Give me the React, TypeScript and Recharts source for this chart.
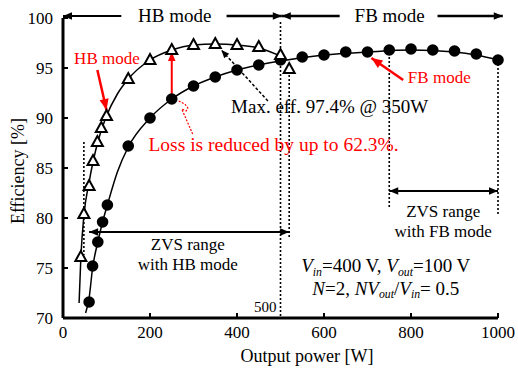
import React from 'react';
import { LineChart, Line, XAxis, YAxis, ReferenceLine, ReferenceDot, Label } from 'recharts';

// Measured markers
const hbPower = [41, 48, 60, 69, 79, 88, 100, 150, 200, 250, 300, 350, 400, 450, 500, 520];
const hbEff = [76.1, 80.4, 83.2, 85.7, 87.6, 89.0, 90.2, 93.9, 95.8, 96.8, 97.3, 97.4, 97.3, 97.1, 96.3, 94.9];
const fbPower = [60, 68, 80, 91, 102, 150, 200, 250, 300, 350, 400, 450, 500, 550, 600, 650, 700, 750, 800, 850, 900, 950, 1000];
const fbEff = [71.6, 75.2, 77.6, 79.6, 81.3, 87.2, 90.0, 91.9, 93.2, 94.1, 94.8, 95.3, 95.8, 96.1, 96.3, 96.6, 96.6, 96.8, 96.9, 96.8, 96.7, 96.4, 95.8];

// Fitted curves
const hbFitPower = [37, 41, 48, 60, 70, 80, 90, 100, 125, 150, 200, 250, 300, 350, 400, 450, 505];
const hbFitEff = [71.5, 76.0, 80.2, 83.6, 85.8, 87.6, 89.0, 90.2, 92.4, 93.9, 95.8, 96.8, 97.3, 97.4, 97.3, 97.0, 96.1];
const fbFitPower = [52, 60, 68, 80, 91, 102, 125, 150, 200, 250, 300, 350, 400, 450, 500, 600, 700, 800, 900, 950, 1000];
const fbFitEff = [70.5, 72.0, 75.0, 77.6, 79.6, 81.3, 84.6, 87.1, 90.0, 91.9, 93.2, 94.1, 94.8, 95.3, 95.7, 96.3, 96.6, 96.8, 96.6, 96.3, 95.8];

// Red dotted callout path
const calloutPower = [266, 280, 287, 283, 273, 298];
const calloutEff = [91.7, 91.4, 91.0, 90.7, 90.9, 88.4];

const xTicks = [0, 200, 400, 600, 800, 1000];
const yTicks = [70, 75, 80, 85, 90, 95, 100];

const rows = (xs: number[], ys: number[]) => xs.map((p, i) => ({ p, e: ys[i] }));

const FONT = "'Liberation Serif', 'Times New Roman', serif";
const RED = '#ff0000';

type ArrowOpts = { color?: string; width?: number; dash?: string; start?: boolean; end?: boolean; head?: number };
function arrow(o: ArrowOpts) {
  return (p: any) => {
    const x1 = Number(p.x1), y1 = Number(p.y1), x2 = Number(p.x2), y2 = Number(p.y2);
    const c = o.color ?? '#000';
    const hl = o.head ?? 9;
    const hw = hl * 0.42;
    const head = (tx: number, ty: number, fx: number, fy: number) => {
      const dx = tx - fx, dy = ty - fy;
      const L = Math.hypot(dx, dy) || 1;
      const ux = dx / L, uy = dy / L;
      const bx = tx - ux * hl, by = ty - uy * hl;
      return (
        <polygon
          points={`${tx},${ty} ${bx - uy * hw},${by + ux * hw} ${bx + uy * hw},${by - ux * hw}`}
          fill={c}
        />
      );
    };
    return (
      <g>
        <line x1={x1} y1={y1} x2={x2} y2={y2} stroke={c} strokeWidth={o.width ?? 2} strokeDasharray={o.dash} />
        {o.end ? head(x2, y2, x1, y1) : null}
        {o.start ? head(x1, y1, x2, y2) : null}
      </g>
    );
  };
}

function textShape(content: React.ReactNode, size: number, color = '#000', anchor: 'start' | 'middle' | 'end' = 'middle') {
  return (p: any) => (
    <text x={p.cx} y={p.cy} fontSize={size} fill={color} textAnchor={anchor} fontFamily={FONT}>
      {content}
    </text>
  );
}

const Triangle = (p: any) => {
  const { cx, cy } = p;
  if (cx == null || cy == null) return <g key={p.index} />;
  return (
    <path
      key={p.index}
      d={`M${cx},${cy - 6} L${cx + 5.5},${cy + 4} L${cx - 5.5},${cy + 4} Z`}
      fill="#fff"
      stroke="#000"
      strokeWidth={2}
      strokeLinejoin="miter"
    />
  );
};

const Circle = (p: any) => {
  const { cx, cy } = p;
  if (cx == null || cy == null) return <g key={p.index} />;
  return <circle key={p.index} cx={cx} cy={cy} r={5.8} fill="#000" />;
};

const SUB = 3.5;
const vinLine = (
  <>
    <tspan fontStyle="italic">V</tspan>
    <tspan fontStyle="italic" fontSize="0.62em" dy={SUB}>in</tspan>
    <tspan dy={-SUB}>=400 V, </tspan>
    <tspan fontStyle="italic">V</tspan>
    <tspan fontStyle="italic" fontSize="0.62em" dy={SUB}>out</tspan>
    <tspan dy={-SUB}>=100 V</tspan>
  </>
);
const nLine = (
  <>
    <tspan fontStyle="italic">N</tspan>
    <tspan>=2, </tspan>
    <tspan fontStyle="italic">NV</tspan>
    <tspan fontStyle="italic" fontSize="0.62em" dy={SUB}>out</tspan>
    <tspan dy={-SUB}>/</tspan>
    <tspan fontStyle="italic">V</tspan>
    <tspan fontStyle="italic" fontSize="0.62em" dy={SUB}>in</tspan>
    <tspan dy={-SUB}>= 0.5</tspan>
  </>
);

const dotted = { stroke: '#000', strokeWidth: 1.6, strokeDasharray: '2 2' };

export default function App() {
  return (
    <div style={{ position: 'absolute', left: 0, top: 0, background: '#fff' }}>
      <LineChart width={518} height={369} margin={{ top: 18, right: 20, left: 0, bottom: 0 }}>
        <XAxis
          type="number"
          dataKey="p"
          domain={[0, 1000]}
          ticks={xTicks}
          interval={0}
          height={51}
          axisLine={{ stroke: '#000', strokeWidth: 3 }}
          tickLine={{ stroke: '#000', strokeWidth: 2 }}
          tickSize={-5}
          tickMargin={13}
          tick={{ fill: '#000', fontSize: 17, fontFamily: FONT }}
        >
          <Label
            content={(p: any) => {
              const vb = p.viewBox || { x: 63, y: 318 };
              return (
                <text x={vb.x + 244} y={vb.y + 44} fontSize={18} fontFamily={FONT} textAnchor="middle" fill="#000">
                  Output power [W]
                </text>
              );
            }}
          />
        </XAxis>
        <YAxis
          type="number"
          domain={[70, 100]}
          ticks={yTicks}
          interval={0}
          width={63}
          axisLine={{ stroke: '#000', strokeWidth: 3 }}
          tickLine={{ stroke: '#000', strokeWidth: 2 }}
          tickSize={-5}
          tickMargin={15}
          tick={{ fill: '#000', fontSize: 17, fontFamily: FONT }}
        >
          <Label
            content={(p: any) => {
              const vb = p.viewBox || { x: 0, y: 18 };
              const x = vb.x + 24;
              const y = vb.y + 153;
              return (
                <text x={x} y={y} fontSize={18} fontFamily={FONT} textAnchor="middle" fill="#000" transform={`rotate(-90, ${x}, ${y})`}>
                  Efficiency [%]
                </text>
              );
            }}
          />
        </YAxis>

        {/* vertical dotted guides */}
        <ReferenceLine segment={[{ x: 500, y: 99.6 }, { x: 500, y: 70 }]} {...dotted} ifOverflow="visible" />
        <ReferenceLine segment={[{ x: 520, y: 94.3 }, { x: 520, y: 78.0 }]} {...dotted} ifOverflow="visible" />
        <ReferenceLine segment={[{ x: 48, y: 87.6 }, { x: 48, y: 76.3 }]} {...dotted} ifOverflow="visible" />
        <ReferenceLine segment={[{ x: 750, y: 96.1 }, { x: 750, y: 81.0 }]} {...dotted} ifOverflow="visible" />
        <ReferenceLine segment={[{ x: 1000, y: 95.8 }, { x: 1000, y: 80.2 }]} {...dotted} ifOverflow="visible" />

        {/* fitted curves */}
        <Line data={rows(hbFitPower, hbFitEff)} dataKey="e" type="monotone" stroke="#000" strokeWidth={1.5} dot={false} isAnimationActive={false} />
        <Line data={rows(fbFitPower, fbFitEff)} dataKey="e" type="monotone" stroke="#000" strokeWidth={1.5} dot={false} isAnimationActive={false} />

        {/* red callout */}
        <Line data={rows(calloutPower, calloutEff)} dataKey="e" type="linear" stroke={RED} strokeWidth={1.2} strokeDasharray="2 1.5" dot={false} isAnimationActive={false} />

        {/* markers */}
        <Line data={rows(fbPower, fbEff)} dataKey="e" stroke="none" dot={Circle} activeDot={false} isAnimationActive={false} />
        <Line data={rows(hbPower, hbEff)} dataKey="e" stroke="none" dot={Triangle} activeDot={false} isAnimationActive={false} />

        {/* top mode arrows */}
        <ReferenceLine segment={[{ x: 134, y: 100.2 }, { x: 0, y: 100.2 }]} ifOverflow="visible" shape={arrow({ end: true, width: 2 })} />
        <ReferenceLine segment={[{ x: 376, y: 100.2 }, { x: 503, y: 100.2 }]} ifOverflow="visible" shape={arrow({ end: true, width: 2.5 })} />
        <ReferenceLine segment={[{ x: 636, y: 100.2 }, { x: 503, y: 100.2 }]} ifOverflow="visible" shape={arrow({ end: true, width: 2.5 })} />
        <ReferenceLine segment={[{ x: 861, y: 100.2 }, { x: 1011, y: 100.2 }]} ifOverflow="visible" shape={arrow({ end: true, width: 2.5 })} />

        {/* ZVS ranges */}
        <ReferenceLine segment={[{ x: 60, y: 78.6 }, { x: 520, y: 78.6 }]} ifOverflow="visible" shape={arrow({ start: true, end: true, width: 2 })} />
        <ReferenceLine segment={[{ x: 750, y: 82.7 }, { x: 1000, y: 82.7 }]} ifOverflow="visible" shape={arrow({ start: true, end: true, width: 2 })} />

        {/* max efficiency arrow */}
        <ReferenceLine segment={[{ x: 471, y: 91.7 }, { x: 364, y: 96.8 }]} ifOverflow="visible" shape={arrow({ end: true, width: 1.5, dash: '3 2', head: 8 })} />

        {/* red arrows */}
        <ReferenceLine segment={[{ x: 250, y: 92.2 }, { x: 250, y: 96.6 }]} ifOverflow="visible" shape={arrow({ end: true, width: 2, color: RED, head: 9 })} />
        <ReferenceLine segment={[{ x: 79, y: 94.8 }, { x: 100, y: 90.8 }]} ifOverflow="visible" shape={arrow({ end: true, width: 2.5, color: RED, head: 11 })} />
        <ReferenceLine segment={[{ x: 782, y: 93.8 }, { x: 709, y: 96.0 }]} ifOverflow="visible" shape={arrow({ end: true, width: 2.5, color: RED, head: 11 })} />

        {/* texts */}
        <ReferenceDot x={257} y={99.56} r={0} ifOverflow="visible" shape={textShape('HB mode', 19)} />
        <ReferenceDot x={751} y={99.56} r={0} ifOverflow="visible" shape={textShape('FB mode', 19)} />
        <ReferenceDot x={101} y={95.43} r={0} ifOverflow="visible" shape={textShape('HB mode', 17, RED)} />
        <ReferenceDot x={865} y={93.5} r={0} ifOverflow="visible" shape={textShape('FB mode', 17, RED)} />
        <ReferenceDot x={613} y={90.5} r={0} ifOverflow="visible" shape={textShape('Max. eff. 97.4% @ 350W', 19)} />
        <ReferenceDot x={484} y={86.66} r={0} ifOverflow="visible" shape={textShape('Loss is reduced by up to 62.3%.', 19.5, RED)} />
        <ReferenceDot x={287} y={76.83} r={0} ifOverflow="visible" shape={textShape('ZVS range', 17)} />
        <ReferenceDot x={287} y={74.76} r={0} ifOverflow="visible" shape={textShape('with HB mode', 17)} />
        <ReferenceDot x={874} y={80.06} r={0} ifOverflow="visible" shape={textShape('ZVS range', 17)} />
        <ReferenceDot x={874} y={78.1} r={0} ifOverflow="visible" shape={textShape('with FB mode', 17)} />
        <ReferenceDot x={742} y={74.6} r={0} ifOverflow="visible" shape={textShape(vinLine, 19)} />
        <ReferenceDot x={742} y={72.35} r={0} ifOverflow="visible" shape={textShape(nLine, 19)} />
        <ReferenceDot x={491} y={70.6} r={0} ifOverflow="visible" shape={textShape('500', 15, '#000', 'end')} />
      </LineChart>
    </div>
  );
}
